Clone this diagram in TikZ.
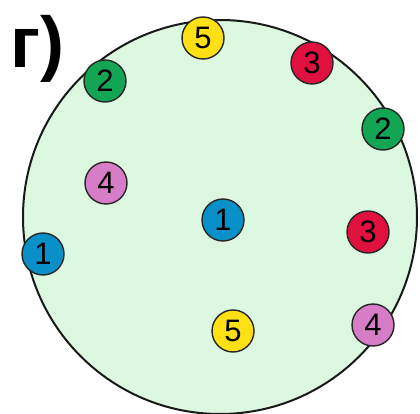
\documentclass[tikz,border=0pt]{standalone}
\usepackage{fontspec}
\setmainfont{Liberation Sans}
\definecolor{bgreen}{HTML}{DDF8E0}
\definecolor{cblue}{HTML}{0A90C8}
\definecolor{cgreen}{HTML}{12A554}
\definecolor{cyellow}{HTML}{FFE014}
\definecolor{cred}{HTML}{E0103F}
\definecolor{cpink}{HTML}{D77CC6}
\begin{document}
\begin{tikzpicture}[x=1pt,y=-1pt,
  ball/.style={circle,draw=black!85,line width=1.4pt,minimum size=42pt,inner sep=0pt,font=\fontsize{31}{31}\selectfont},
  big/.style={draw=black!90,line width=2pt,fill=bgreen}]
\useasboundingbox (0,0) rectangle (420,414);
\fill[white] (0,0) rectangle (420,414);
\coordinate (c) at (220,217);
\draw[big] (c) circle[radius=197];
\node[anchor=base west,font=\fontsize{72}{72}\bfseries\selectfont,inner sep=0pt] (lbl) at (10,68) {г)};
\node[ball,fill=cyellow] (y1) at (203,38) {5};
\node[ball,fill=cred] (r1) at (312,63) {3};
\node[ball,fill=cgreen] (g1) at (105,81) {2};
\node[ball,fill=cgreen] (g2) at (383,129) {2};
\node[ball,fill=cpink] (p1) at (106,183) {4};
\node[ball,fill=cblue] (b1) at (223,220) {1};
\node[ball,fill=cred] (r2) at (368,232) {3};
\node[ball,fill=cblue] (b2) at (43,254) {1};
\node[ball,fill=cyellow] (y2) at (233,331) {5};
\node[ball,fill=cpink] (p2) at (373,325) {4};
\end{tikzpicture}
\end{document}
